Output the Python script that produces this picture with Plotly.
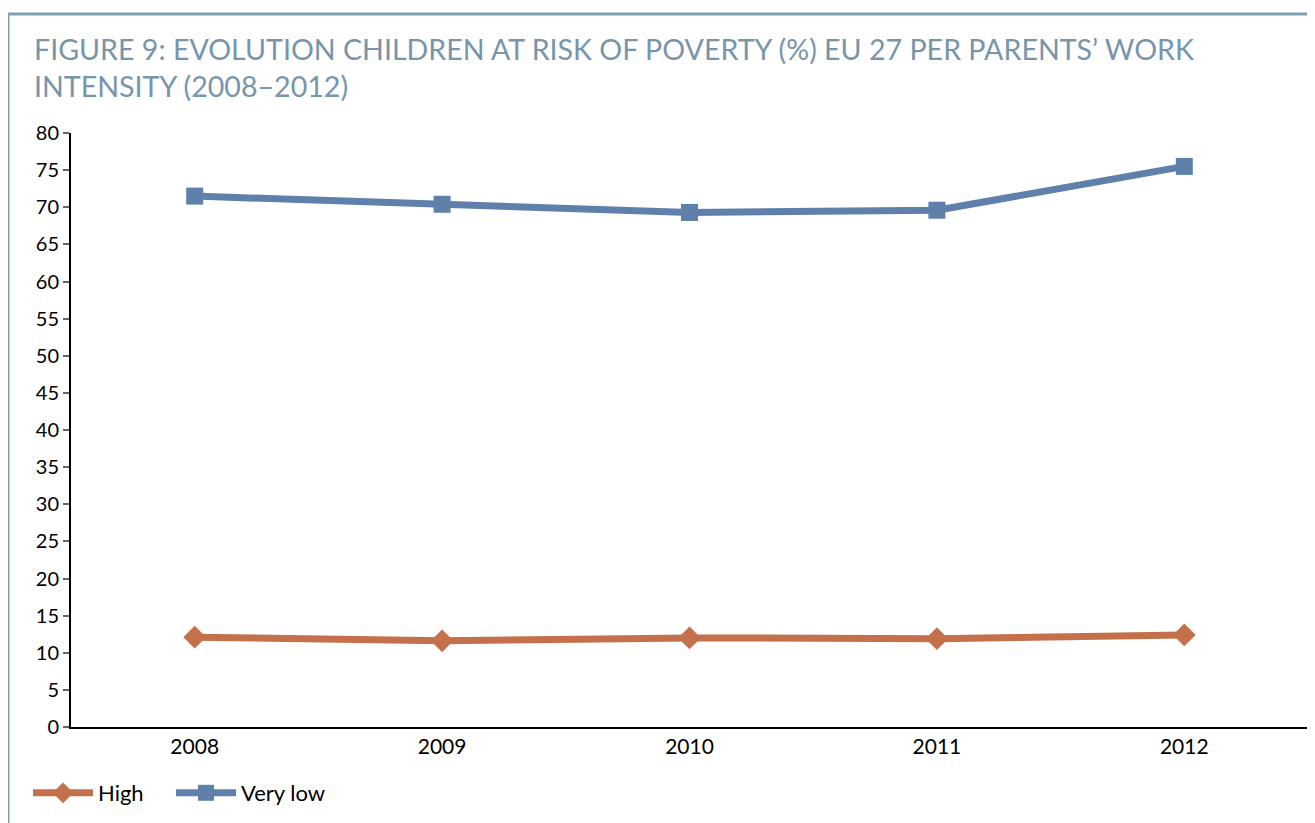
import plotly.graph_objects as go

years = ["2008", "2009", "2010", "2011", "2012"]
high = [12.1, 11.6, 12.0, 11.9, 12.4]
very_low = [71.5, 70.4, 69.3, 69.6, 75.5]
y_ticks = list(range(0, 81, 5))

FONT = "Lato, 'Open Sans', sans-serif"
BLUE = "#5F80AB"
ORANGE = "#C3704B"
FRAME = "#819DB2"
TITLE_C = "#7795AC"

fig = go.Figure()
fig.add_trace(go.Scatter(
    x=years, y=high, name="High", mode="lines+markers",
    line=dict(color=ORANGE, width=7),
    marker=dict(symbol="diamond", size=17.5, color=ORANGE),
    legend="legend",
))
fig.add_trace(go.Scatter(
    x=years, y=very_low, name="Very low", mode="lines+markers",
    line=dict(color=BLUE, width=7),
    marker=dict(symbol="square", size=17, color=BLUE),
    legend="legend2",
))

W, H = 1315, 823
OFF = 8  # page body margin
PL, PT, PR, PB = 71, 133, 1308, 727  # plot area in page pixels
L = PL - OFF
T = PT - OFF
pw, ph = PR - PL, PB - PT
R = W - L - pw
B = H - T - ph

def px(x):
    return (x - PL) / pw

def py(y):
    return (PB - y) / ph

legend_style = dict(
    orientation="h", xanchor="left",
    y=py(793), yanchor="middle",
    font=dict(size=22), itemwidth=60,
    bgcolor="rgba(0,0,0,0)",
)

fig.update_layout(
    width=W, height=H,
    margin=dict(l=L, r=R, t=T, b=B),
    paper_bgcolor="white", plot_bgcolor="white",
    font=dict(family=FONT, size=20, color="black"),
    title=dict(
        text="FIGURE 9: EVOLUTION CHILDREN AT RISK OF POVERTY (%) EU 27 PER PARENTS’ WORK<br>INTENSITY (2008–2012)",
        font=dict(family=FONT, size=28.6, color=TITLE_C),
        x=(34 - OFF) / W, xanchor="left", xref="container",
        y=1 - 52 / H, yanchor="top", yref="container",
    ),
    xaxis=dict(
        type="category", range=[-0.5, 4.5],
        showline=True, linecolor="black", linewidth=2,
        ticks="", showgrid=False, zeroline=False,
        tickfont=dict(size=21),
    ),
    yaxis=dict(
        range=[0, 80], tickvals=y_ticks,
        showline=True, linecolor="black", linewidth=2,
        ticks="outside", ticklen=6, tickcolor="#666666", tickwidth=2,
        showgrid=False, zeroline=False,
        tickfont=dict(size=20),
    ),
    legend=dict(x=px(28), **legend_style),
    legend2=dict(x=px(171), **legend_style),
    showlegend=True,
)

fig.add_shape(type="line", xref="paper", yref="paper",
              x0=px(8), x1=px(1330), y0=py(14), y1=py(14),
              line=dict(color=FRAME, width=3))
fig.add_shape(type="line", xref="paper", yref="paper",
              x0=px(8), x1=px(8), y0=py(14), y1=py(840),
              line=dict(color=FRAME, width=3))

fig.write_html("out.html")
